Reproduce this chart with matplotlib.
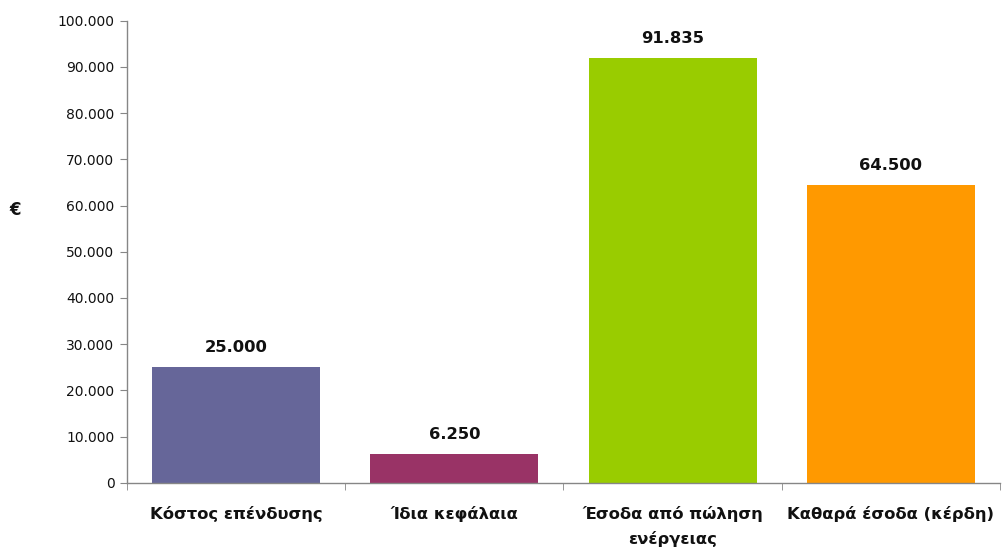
import matplotlib
matplotlib.use("Agg")
import matplotlib.pyplot as plt
from matplotlib.ticker import FuncFormatter, FixedLocator

categories = ["Κόστος επένδυσης", "Ίδια κεφάλαια", "Έσοδα από πώληση\nενέργειας", "Καθαρά έσοδα (κέρδη)"]
values = [25000, 6250, 91835, 64500]
colors = ["#666699", "#993366", "#99CC00", "#FF9900"]
yticks = list(range(0, 100001, 10000))

def fmt(v):
    return f"{int(round(v)):,}".replace(",", ".")

plt.rcParams['font.family'] = ['DejaVu Sans']
fig = plt.figure(figsize=(10.02, 5.52), dpi=100)
ax = fig.add_axes([0.1267, 0.1255, 0.8713, 0.837])

x = list(range(len(categories)))
bars = ax.bar(x, values, width=0.77, color=colors, zorder=2)
for xi, v in zip(x, values):
    ax.annotate(fmt(v), (xi, v), xytext=(0, 14), textcoords="offset points",
                ha="center", va="center", fontsize=11.8, fontweight="bold", color="#111111")

ax.set_xlim(-0.5, 3.5)
ax.set_ylim(0, 100000)
ax.set_yticks(yticks)
ax.yaxis.set_major_formatter(FuncFormatter(lambda v, p: fmt(v)))
ax.set_xticks(x)
ax.set_xticklabels(categories, fontsize=11.8, fontweight="bold", color="#111111", linespacing=1.65)
ax.xaxis.set_minor_locator(FixedLocator([-0.5, 0.5, 1.5, 2.5, 3.5]))
ax.tick_params(axis="x", which="major", length=0, pad=17)
ax.tick_params(axis="x", which="minor", length=5, color="#868686", direction="out")
ax.tick_params(axis="y", length=5, color="#868686", direction="out", labelsize=10, labelcolor="#111111", pad=4)

for s in ["top", "right"]:
    ax.spines[s].set_visible(False)
for s in ["left", "bottom"]:
    ax.spines[s].set_color("#868686")
    ax.spines[s].set_linewidth(1.0)

fig.text(15 / 1002, 1 - 210 / 552, "€", fontsize=12, fontweight="bold", ha="center", va="center", color="#111111")

fig.savefig("out.png", dpi=100)
